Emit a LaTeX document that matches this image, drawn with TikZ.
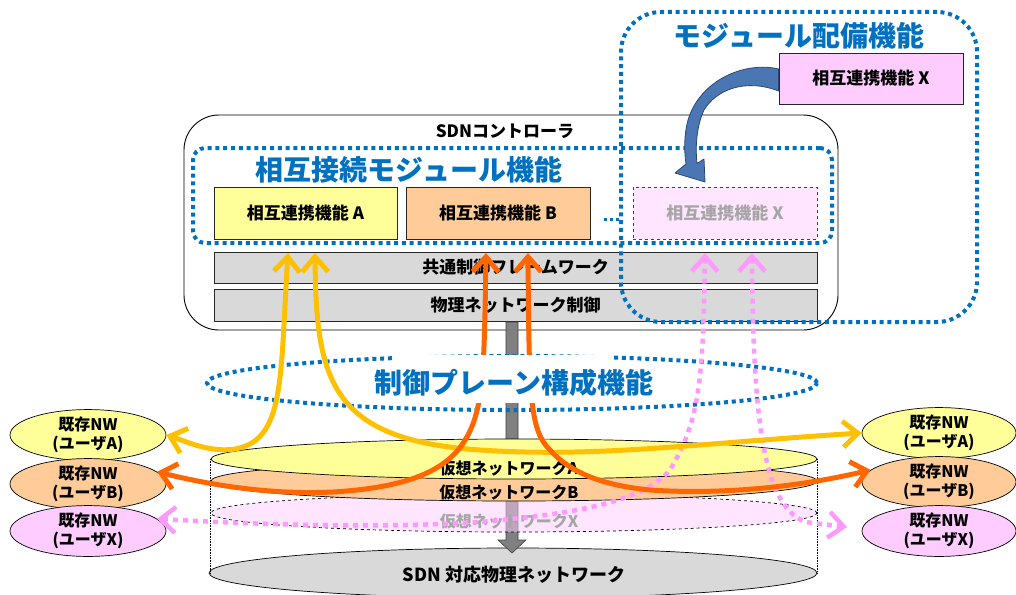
\documentclass[tikz,border=0pt]{standalone}
\usepackage{fontspec}
\setmainfont{Noto Sans CJK JP}
\usetikzlibrary{arrows.meta,shapes.geometric}
\definecolor{myblue}{HTML}{0070C0}
\definecolor{yelF}{HTML}{FFFF99}
\definecolor{oraF}{HTML}{FFCC99}
\definecolor{pinkF}{HTML}{FFCCFF}
\definecolor{pinkL}{HTML}{FFE5FF}
\definecolor{barg}{HTML}{D9D9D9}
\definecolor{ycol}{HTML}{FFC000}
\definecolor{ocol}{HTML}{FF6600}
\definecolor{pcol}{HTML}{FF99FF}
\definecolor{greyT}{HTML}{A6A6A6}
\definecolor{arrB}{HTML}{4A77B3}
\definecolor{arrD}{HTML}{2B4870}
\begin{document}
\begin{tikzpicture}[x=1pt,y=-1pt,
  jp/.style={font=\bfseries\fontsize{17}{20}\selectfont},
  ljp/.style={font=\bfseries\fontsize{16}{19}\selectfont, inner sep=0pt},
  titletxt/.style={font=\bfseries\fontsize{28}{31}\selectfont, text=myblue, inner sep=0pt},
  bluedot/.style={draw=myblue, line width=4pt, dash pattern=on 4pt off 3.8pt},
  fbox/.style={draw=black!85, line width=0.8pt, minimum width=184pt, minimum height=52pt, inner sep=0pt, jp},
  barbox/.style={draw=black!85, line width=0.8pt, fill=barg, minimum width=603pt, inner sep=0pt, jp},
  layer/.style={ellipse, draw=black, line width=0.7pt, minimum width=606pt, minimum height=40pt, inner sep=0pt},
  nw/.style={ellipse, draw=black, line width=0.7pt, minimum width=156pt, minimum height=50pt, inner sep=0pt, align=center, font=\bfseries\fontsize{16}{19}\selectfont},
  conn/.style={line width=5pt, line cap=round, arrows={Straight Barb[length=15pt,width=26pt]-Straight Barb[length=15pt,width=26pt]}},
  pconn/.style={draw=pcol, line width=4.5pt, dash pattern=on 5pt off 5pt, arrows={Straight Barb[length=15pt,width=26pt]-Straight Barb[length=15pt,width=26pt]}},
]
\useasboundingbox (0,0) rectangle (1016,594);

% ---------- SDN controller ----------
\node[draw=black, line width=0.9pt, rounded corners=35pt, fill=white, minimum width=654pt, minimum height=215pt] (ctrl) at (511,222.5) {};
\node[jp, inner sep=0pt] (ctrlT) at (505,131) {SDNコントローラ};
\node[bluedot, rounded corners=12pt, minimum width=639pt, minimum height=95pt] (icm) at (512.5,195.5) {};
\node[titletxt] (icmT) at (409,170) {相互接続モジュール機能};
\node[fbox, fill=yelF, minimum width=183pt] (fA) at (305.5,213) {相互連携機能 A};
\node[fbox, fill=oraF] (fB) at (498,213) {相互連携機能 B};
\node[fbox, fill=pinkL, dashed, draw=black!75, text=greyT] (fX) at (725,213) {相互連携機能 X};
\fill[myblue] (603.5,217.5) rectangle +(3,3);
\fill[myblue] (609.5,217.5) rectangle +(3,3);
\fill[myblue] (615.5,217.5) rectangle +(3,3);
\node[barbox, minimum height=31pt] (bar1) at (515.5,267.5) {共通制御フレームワーク};
\node[barbox, minimum height=32pt] (bar2) at (515.5,305) {物理ネットワーク制御};

% ---------- module deployment ----------
\node[bluedot, rounded corners=40pt, minimum width=356pt, minimum height=310pt] (dep) at (799,167) {};
\node[titletxt] (depT) at (799,36) {モジュール配備機能};
\node[fbox, fill=pinkF, minimum height=51pt] (fXd) at (871,78.5) {相互連携機能 X};
\draw[fill=arrB, draw=arrD, line width=0.8pt, line join=round]
  (fXd.west |- 0,69) .. controls (745,61) and (700,80) .. (688,120)
  .. controls (684,135) and (684,150) .. (686,164) -- (675,173) -- (705,182) -- (704,159) -- (697,163.5)
  .. controls (695,145) and (697,125) .. (704,110) .. controls (716,90) and (745,78) .. (fXd.west |- 0,91) -- cycle;

% ---------- network stack ----------
\node[layer, fill=barg, minimum width=608pt, minimum height=50pt] (phys) at (513,573) {};
\node[layer, draw=none] (layA0) at (514,459) {};
\draw[densely dotted, line width=0.6pt] (layA0.west) -- (layA0.west |- phys.center);
\draw[densely dotted, line width=0.6pt] (layA0.east) -- (layA0.east |- phys.center);
\draw[fill=black!50, draw=black!75, line width=0.6pt]
  (506,322) -- (518,322) -- (518,540) -- (526,540) -- (512,553) -- (498,540) -- (506,540) -- cycle;
\node[layer, dashed, fill=pinkF, fill opacity=0.5, draw opacity=1, minimum height=38pt] (layX) at (514,513) {};
\node[layer, fill=oraF] (layB) at (514,481) {};
\node[layer, fill=yelF] (layA) at (514,459) {};
\node[ljp] (layAT) at (509,468) {仮想ネットワークA};
\node[ljp] (layBT) at (509,492) {仮想ネットワークB};
\node[ljp, text=greyT] (layXT) at (509,521) {仮想ネットワークX};
\node[inner sep=0pt, font=\bfseries\fontsize{18}{21}\selectfont] (physT) at (514,575) {SDN 対応物理ネットワーク};

% ---------- control plane ellipse ----------
\node[ellipse, bluedot, minimum width=610pt, minimum height=54pt, inner sep=0pt] (cp) at (512,383) {};

% ---------- existing networks ----------
\node[nw, fill=yelF] (eLA) at (88,435) {既存NW\\(ユーザA)};
\node[nw, fill=oraF] (eLB) at (88,484) {既存NW\\(ユーザB)};
\node[nw, fill=pinkF] (eLX) at (88,531) {既存NW\\(ユーザX)};
\node[nw, fill=yelF, minimum width=154pt] (eRA) at (939,433) {既存NW\\(ユーザA)};
\node[nw, fill=oraF, minimum width=154pt] (eRB) at (939,482) {既存NW\\(ユーザB)};
\node[nw, fill=pinkF, minimum width=154pt] (eRX) at (939,531) {既存NW\\(ユーザX)};

% ---------- connectors ----------
\coordinate (yaT) at (288,253);
\coordinate (ybT) at (315,253);
\coordinate (oaT) at (486,253);
\coordinate (obT) at (528,253);
\coordinate (paT) at (705,253);
\coordinate (pbT) at (752,253);
\coordinate (pbE) at (847,527);

\draw[pconn] (paT) .. controls (703,380) and (700,420) .. (670,470)
  .. controls (640,505) and (560,515) .. (480,522) .. controls (400,527) and (300,527) .. (eLX.10);
\draw[pconn] (pbT) .. controls (753,430) and (765,505) .. (805,522) -- (pbE);
\draw[conn, draw=ycol] (yaT) .. controls (280,380) and (285,440) .. (235,449)
  .. controls (210,453) and (185,441) .. (eLA.east);
\draw[conn, draw=ycol] (ybT) .. controls (316,380) and (330,440) .. (480,450)
  .. controls (600,458) and (700,443) .. (eRA.west);
\draw[conn, draw=ocol] (oaT) .. controls (484,380) and (484,418) .. (458,450)
  .. controls (438,474) and (400,488) .. (333,492)
  .. controls (270,495) and (210,485) .. (eLB.10);
\draw[conn, draw=ocol] (obT) .. controls (529,400) and (530,430) .. (550,450)
  .. controls (570,472) and (600,485) .. (650,490)
  .. controls (740,496) and (820,482) .. (eRB.170);

% ---------- control plane label ----------
\fill[white] (392,355) rectangle (612,403);
\node[titletxt] (cpT) at (514,383) {制御プレーン構成機能};
\end{tikzpicture}
\end{document}
